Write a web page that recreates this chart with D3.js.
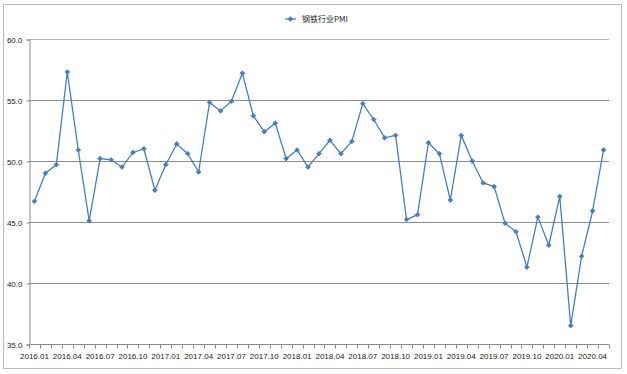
<!DOCTYPE html>
<html lang="zh">
<head>
  <meta charset="utf-8">
  <title>钢铁行业PMI</title>
  <script src="https://d3js.org/d3.v7.min.js" charset="utf-8"></script>
  <style type="text/css">
    body { margin: 0; background: #fff; }
    text { font-family: "Liberation Sans Narrow", "Liberation Sans", Arial, sans-serif; fill: #1a1a1a; }
  </style>
</head>
<body>
  <svg id="chart" width="627" height="374" xmlns="http://www.w3.org/2000/svg"></svg>
  <script type="text/javascript">
    // monthly categories 2016.01 - 2020.05
    var months = [];
    for (var yr = 2016; yr <= 2020; yr++) {
      for (var mo = 1; mo <= 12; mo++) {
        if (yr === 2020 && mo > 5) break;
        months.push(yr + '.' + (mo < 10 ? '0' + mo : mo));
      }
    }

    var pmi = [
      46.7, 49.0, 49.7, 57.3, 50.9, 45.1, 50.2, 50.1, 49.5, 50.7, 51.0, 47.6,
      49.7, 51.4, 50.6, 49.1, 54.8, 54.1, 54.9, 57.2, 53.7, 52.4, 53.1, 50.2,
      50.9, 49.5, 50.6, 51.7, 50.6, 51.6, 54.7, 53.4, 51.9, 52.1, 45.2, 45.6,
      51.5, 50.6, 46.8, 52.1, 50.0, 48.2, 47.9, 44.9, 44.2, 41.3, 45.4, 43.1,
      47.1, 36.5, 42.2, 45.9, 50.9
    ];

    var yTicks = [35, 40, 45, 50, 55, 60];
    var seriesName = '钢铁行业PMI';

    var svg = d3.select('#chart');
    var plotLeft = 29, plotRight = 609, plotTop = 39, plotBottom = 344;

    // outer frame
    svg.append('rect')
      .attr('x', 3.5).attr('y', 4.5)
      .attr('width', 618).attr('height', 364)
      .style('fill', 'none')
      .style('stroke', '#bcbcbc')
      .style('stroke-width', 1);

    var x = d3.scaleBand().domain(months).range([plotLeft, plotRight]);
    var yScale = d3.scaleLinear().domain([35, 60]).range([plotBottom, plotTop]);

    // gridlines
    svg.append('g')
      .selectAll('line')
      .data(yTicks)
      .enter()
      .append('line')
      .attr('x1', plotLeft).attr('x2', plotRight)
      .attr('y1', function(d) { return Math.round(yScale(d)) + 0.5; })
      .attr('y2', function(d) { return Math.round(yScale(d)) + 0.5; })
      .style('stroke', function(d) { return d === 60 ? '#b4b4b4' : '#8c8c8c'; })
      .style('stroke-width', 1);

    // y axis
    var yAxis = svg.append('g')
      .attr('transform', 'translate(' + (plotLeft + 0.5) + ',0.5)')
      .call(d3.axisLeft(yScale).tickValues(yTicks).tickFormat(d3.format('.1f')).tickSize(3).tickPadding(4));
    yAxis.select('.domain').style('stroke', '#8c8c8c');
    yAxis.selectAll('.tick line').style('stroke', '#8c8c8c');
    yAxis.selectAll('text').attr('font-size', '8px').style('fill', '#1a1a1a')
      .style('font-family', '"Liberation Sans Narrow", "Liberation Sans", Arial, sans-serif');

    // x axis: ticks between categories, labels every 3 months
    var xg = svg.append('g').attr('transform', 'translate(0,' + (plotBottom + 0.5) + ')');
    xg.append('line')
      .attr('x1', plotLeft).attr('x2', plotRight)
      .style('stroke', '#8c8c8c');
    var bounds = months.map(function(d) { return x(d); }).concat([plotRight]);
    xg.selectAll('line.tk')
      .data(bounds)
      .enter()
      .append('line')
      .attr('class', 'tk')
      .attr('x1', function(d) { return Math.round(d) + 0.5; })
      .attr('x2', function(d) { return Math.round(d) + 0.5; })
      .attr('y1', 0).attr('y2', 4)
      .style('stroke', '#8c8c8c');
    xg.selectAll('text')
      .data(months.filter(function(d, i) { return i % 3 === 0; }))
      .enter()
      .append('text')
      .attr('x', function(d) { return x(d) + x.bandwidth() / 2; })
      .attr('y', 14)
      .attr('text-anchor', 'middle')
      .attr('font-size', '8px')
      .text(function(d) { return d; });

    // series line
    var line = d3.line()
      .x(function(d, i) { return x(months[i]) + x.bandwidth() / 2; })
      .y(function(d) { return yScale(d); });

    svg.append('path')
      .datum(pmi)
      .attr('d', line)
      .style('fill', 'none')
      .style('stroke', '#4a7ebb')
      .style('stroke-width', 1.3);

    var diamond = d3.symbol().type(d3.symbolSquare).size(11);
    svg.append('g')
      .selectAll('path')
      .data(pmi)
      .enter()
      .append('path')
      .attr('d', diamond)
      .attr('transform', function(d, i) {
        return 'translate(' + (x(months[i]) + x.bandwidth() / 2) + ',' + yScale(d) + ') rotate(45)';
      })
      .style('fill', '#4a7ebb')
      .style('stroke', '#4a7ebb')
      .style('stroke-width', 0.8);

    // legend
    var lg = svg.append('g').attr('transform', 'translate(285,19)');
    lg.append('line')
      .attr('x1', 0).attr('x2', 11).attr('y1', 0).attr('y2', 0)
      .style('stroke', '#4a7ebb').style('stroke-width', 1.3);
    lg.append('path')
      .attr('d', diamond)
      .attr('transform', 'translate(5.5,0) rotate(45)')
      .style('fill', '#4a7ebb')
      .style('stroke', '#4a7ebb')
      .style('stroke-width', 0.8);
    lg.append('text')
      .attr('x', 17).attr('y', 3)
      .attr('font-size', '8px')
      .style('font-family', '"Noto Sans CJK SC", sans-serif')
      .text(seriesName);
  </script>
</body>
</html>
